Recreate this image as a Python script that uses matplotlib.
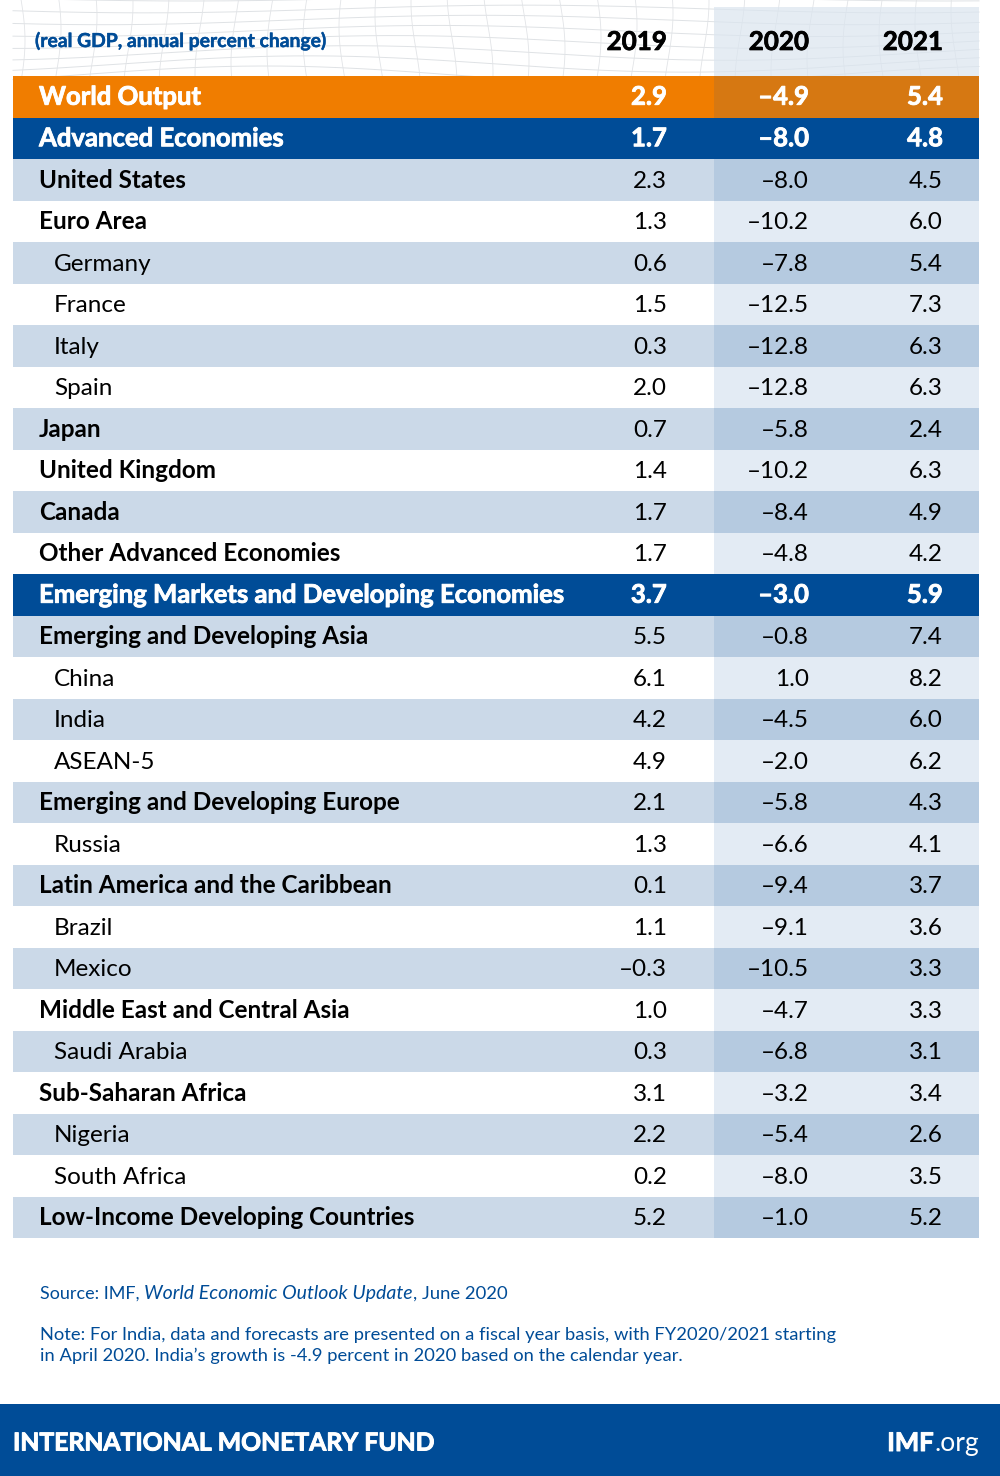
import numpy as np
import matplotlib
matplotlib.use("Agg")
import matplotlib.pyplot as plt
import matplotlib.patheffects as pe
from matplotlib.patches import Rectangle

plt.rcParams["font.family"] = ["Lato", "DejaVu Sans"]

# level: 0 = orange, 1 = blue heading, 2 = bold, 3 = indented
labels = ["World Output", "Advanced Economies", "United States", "Euro Area",
          "Germany", "France", "Italy", "Spain", "Japan", "United Kingdom",
          "Canada", "Other Advanced Economies",
          "Emerging Markets and Developing Economies",
          "Emerging and Developing Asia", "China", "India", "ASEAN-5",
          "Emerging and Developing Europe", "Russia",
          "Latin America and the Caribbean", "Brazil", "Mexico",
          "Middle East and Central Asia", "Saudi Arabia",
          "Sub-Saharan Africa", "Nigeria", "South Africa",
          "Low-Income Developing Countries"]
levels = [0, 1, 2, 2, 3, 3, 3, 3, 2, 2, 2, 2, 1, 2, 3, 3, 3, 2, 3, 2, 3, 3, 2, 3, 2, 3, 3, 2]
years = ["2019", "2020", "2021"]
v2019 = [2.9, 1.7, 2.3, 1.3, 0.6, 1.5, 0.3, 2.0, 0.7, 1.4, 1.7, 1.7, 3.7, 5.5,
         6.1, 4.2, 4.9, 2.1, 1.3, 0.1, 1.1, -0.3, 1.0, 0.3, 3.1, 2.2, 0.2, 5.2]
v2020 = [-4.9, -8.0, -8.0, -10.2, -7.8, -12.5, -12.8, -12.8, -5.8, -10.2, -8.4,
         -4.8, -3.0, -0.8, 1.0, -4.5, -2.0, -5.8, -6.6, -9.4, -9.1, -10.5, -4.7,
         -6.8, -3.2, -5.4, -8.0, -1.0]
v2021 = [5.4, 4.8, 4.5, 6.0, 5.4, 7.3, 6.3, 6.3, 2.4, 6.3, 4.9, 4.2, 5.9, 7.4,
         8.2, 6.0, 6.2, 4.3, 4.1, 3.7, 3.6, 3.3, 3.3, 3.1, 3.4, 2.6, 3.5, 5.2]

BLUE = "#004c97"
ORANGE = "#f07d00"
ORANGE_DK = "#d67812"
ROW = "#cbd9e8"
ROW_DK = "#b5cae0"
COL_LIGHT = "#e3ebf4"

LEFT, SPLIT, RIGHT = 13, 714, 979
TOP, ROW_H = 76, 41.5
VAL_X = [667, 809, 943]
FS = 17.5
FS_HEAD = 18.5


def fmt(v):
    return f"–{abs(v):.1f}" if v < 0 else f"{v:.1f}"


def rect(ax, x0, y0, x1, y1, color, **kw):
    ax.add_patch(Rectangle((x0, y0), x1 - x0, y1 - y0, facecolor=color,
                           edgecolor="none", **kw))


def thicken(color, w=0.5):
    return [pe.withStroke(linewidth=w, foreground=color)]


fig = plt.figure(figsize=(10, 14.76), dpi=100)
ax = fig.add_axes([0, 0, 1, 1])
ax.set_xlim(0, 1000)
ax.set_ylim(1476, 0)
ax.axis("off")

# faint mesh behind the header
x = np.linspace(LEFT, RIGHT, 300)
for y0, amp, ph in zip(range(-2, 84, 11), np.linspace(3, 9, 8), np.linspace(0, 2.5, 8)):
    ax.plot(x, y0 + amp * np.sin(x / 120 + ph), color="#dfe2e5", lw=0.7, zorder=1)
y = np.linspace(0, 76, 30)
for x0 in range(20, 980, 36):
    ax.plot(x0 + 5 * np.sin(y / 30 + x0 / 90), y, color="#e2e4e7", lw=0.6, zorder=1)
rect(ax, SPLIT, 7, RIGHT, TOP, "#dbe5ef", alpha=0.7, zorder=2)

ax.text(35, 41, "(real GDP, annual percent change)", color=BLUE, fontsize=13.9,
        fontweight="bold", va="center", zorder=3, path_effects=thicken(BLUE, 0.3))
for yr, vx in zip(years, VAL_X):
    ax.text(vx, 50, yr, color="black", fontsize=18.7, fontweight="bold",
            ha="right", va="baseline", zorder=3, path_effects=thicken("black"))

for i, (lab, lev) in enumerate(zip(labels, levels)):
    y0 = TOP + i * ROW_H
    y1 = y0 + ROW_H
    base = y0 + ROW_H / 2 + 8
    # the stripes change phase after the second blue heading
    shaded = i % 2 == 0 if i < 12 else i % 2 == 1
    if lev == 0:
        c_l, c_r, tc = ORANGE, ORANGE_DK, "white"
    elif lev == 1:
        c_l, c_r, tc = BLUE, BLUE, "white"
    elif shaded:
        c_l, c_r, tc = ROW, ROW_DK, "black"
    else:
        c_l, c_r, tc = "white", COL_LIGHT, "black"
    rect(ax, LEFT, y0, SPLIT, y1, c_l, zorder=2)
    rect(ax, SPLIT, y0, RIGHT, y1, c_r, zorder=2)

    heavy = lev < 2
    fs = FS_HEAD if heavy else FS
    fx = thicken("white", 0.6) if heavy else []
    ax.text(54 if lev == 3 else 39, base, lab, color=tc, fontsize=fs,
            fontweight="bold" if lev < 3 else "normal", va="baseline", zorder=3,
            path_effects=fx)
    for vx, v in zip(VAL_X, (v2019[i], v2020[i], v2021[i])):
        ax.text(vx, base, fmt(v), color=tc, fontsize=fs,
                fontweight="bold" if heavy else "normal",
                ha="right", va="baseline", zorder=3, path_effects=fx)

# source and note, roman and italic pieces set one after the other
renderer = fig.canvas.get_renderer()
cur = 40
for piece, style, size in [("Source: IMF, ", "normal", 13.0),
                           ("World Economic Outlook Update", "italic", 14.0),
                           (", June 2020", "normal", 13.3)]:
    ax.text(cur, 1294, piece, color=BLUE, fontsize=size, style=style, va="center")
    # keep the trailing space in the measured width
    probe = ax.text(cur, 1294, piece.replace(" ", "\u00a0"), fontsize=size, style=style, alpha=0)
    cur = probe.get_window_extent(renderer).x1
    probe.remove()
ax.text(40, 1335, "Note: For India, data and forecasts are presented on a fiscal year basis, with FY2020/2021 starting",
        color=BLUE, fontsize=13.25, va="center")
ax.text(40, 1356, "in April 2020. India’s growth is -4.9 percent in 2020 based on the calendar year.",
        color=BLUE, fontsize=13.25, va="center")

# footer band
rect(ax, 0, 1404, 1000, 1476, BLUE, zorder=2)
ax.text(13, 1443, "INTERNATIONAL MONETARY FUND", color="white", fontsize=17.8,
        fontweight="bold", va="center", zorder=3, path_effects=thicken("white", 0.7))
ax.text(934, 1443, "IMF", color="white", fontsize=18.5, fontweight="bold",
        ha="right", va="center", zorder=3, path_effects=thicken("white", 0.7))
ax.text(934, 1443, ".org", color="white", fontsize=19, ha="left", va="center", zorder=3)

fig.savefig("out.png", dpi=100, facecolor="white")
